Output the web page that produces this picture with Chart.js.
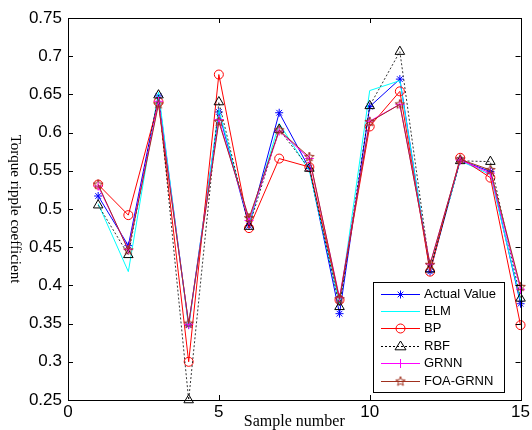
<!DOCTYPE html>
<html>
<head>
<meta charset="utf-8">
<script src="https://cdn.jsdelivr.net/npm/chart.js@4/dist/chart.umd.min.js"></script>
<style>
html,body{margin:0;padding:0;background:#fff;}
#wrap{width:532px;height:430px;position:relative;}
</style>
</head>
<body>
<div id="wrap"><canvas id="c" width="532" height="430"></canvas></div>
<script>
const samples = [1,2,3,4,5,6,7,8,9,10,11,12,13,14,15];
const actualValue = [0.517,0.452,0.648,0.348,0.627,0.478,0.626,0.553,0.363,0.634,0.670,0.418,0.564,0.549,0.376];
const elmValues   = [0.507,0.418,0.653,0.345,0.630,0.480,0.612,0.550,0.375,0.655,0.668,0.420,0.563,0.545,0.380];
const bpValues    = [0.532,0.492,0.640,0.300,0.676,0.475,0.566,0.555,0.381,0.608,0.654,0.418,0.567,0.541,0.348];
const rbfValues   = [0.505,0.440,0.649,0.250,0.640,0.477,0.604,0.553,0.372,0.635,0.706,0.421,0.563,0.562,0.383];
const grnnValues  = [0.530,0.447,0.641,0.349,0.617,0.485,0.602,0.566,0.384,0.615,0.637,0.428,0.564,0.547,0.395];
const foaValues   = [0.532,0.446,0.637,0.350,0.614,0.488,0.603,0.568,0.382,0.614,0.637,0.427,0.565,0.551,0.398];
const xTicks = [0,5,10,15];
const yTicks = [0.25,0.3,0.35,0.4,0.45,0.5,0.55,0.6,0.65,0.7,0.75];
const seriesNames = ['Actual Value','ELM','BP','RBF','GRNN','FOA-GRNN'];
const xTitle = 'Sample number';
const yTitle = 'Torque ripple coefficient';

const BROWN = '#a0301e';
function pentagram(color, r){
  const s = Math.ceil(r*2+4);
  const c = document.createElement('canvas');
  c.width = s; c.height = s;
  const g = c.getContext('2d');
  g.strokeStyle = color; g.lineWidth = 1;
  g.beginPath();
  for(let i=0;i<10;i++){
    const a = -Math.PI/2 + i*Math.PI/5;
    const rr = (i%2===0) ? r : r*0.42;
    const x = s/2 + rr*Math.cos(a), y = s/2 + rr*Math.sin(a);
    if(i===0) g.moveTo(x,y); else g.lineTo(x,y);
  }
  g.closePath(); g.stroke();
  return c;
}
const pentaImg = pentagram(BROWN, 5);

function pts(vals){ return samples.map((x,i)=>({x:x,y:vals[i]})); }

const styles = [
  {color:'#0000ff', point:'star', radius:4, dash:[], width:1},
  {color:'#00ffff', point:false, radius:0, dash:[], width:1},
  {color:'#ff0000', point:'circle', radius:4.5, dash:[], width:1},
  {color:'#000000', point:'triangle', radius:5.5, dash:[2,2], width:0.8},
  {color:'#ff00ff', point:'cross', radius:4.5, dash:[], width:1},
  {color:BROWN, point:pentaImg, radius:5, dash:[], width:1}
];
const allVals = [actualValue, elmValues, bpValues, rbfValues, grnnValues, foaValues];

const datasets = allVals.map((v,i)=>({
  label: seriesNames[i],
  data: pts(v),
  borderColor: styles[i].color,
  borderWidth: styles[i].width,
  borderDash: styles[i].dash,
  pointStyle: styles[i].point,
  pointRadius: styles[i].radius,
  pointBorderColor: styles[i].color,
  pointBackgroundColor: 'rgba(0,0,0,0)',
  pointBorderWidth: 1,
  tension: 0,
  fill: false,
  clip: false,
  order: 6 - i
}));

function drawMarker(ctx, i, x, y){
  const s = styles[i];
  ctx.save();
  ctx.strokeStyle = s.color; ctx.lineWidth = 1; ctx.setLineDash([]);
  const r = s.radius;
  ctx.beginPath();
  if(s.point === 'star'){
    ctx.moveTo(x-r,y); ctx.lineTo(x+r,y); ctx.moveTo(x,y-r); ctx.lineTo(x,y+r);
    const d = r*0.707;
    ctx.moveTo(x-d,y-d); ctx.lineTo(x+d,y+d); ctx.moveTo(x-d,y+d); ctx.lineTo(x+d,y-d);
    ctx.stroke();
  } else if(s.point === 'circle'){
    ctx.arc(x,y,r,0,Math.PI*2); ctx.stroke();
  } else if(s.point === 'triangle'){
    const h = r*1.5;
    ctx.moveTo(x, y - r); ctx.lineTo(x + r*0.866*1.15, y + r*0.6); ctx.lineTo(x - r*0.866*1.15, y + r*0.6); ctx.closePath(); ctx.stroke();
  } else if(s.point === 'cross'){
    ctx.moveTo(x-r,y); ctx.lineTo(x+r,y); ctx.moveTo(x,y-r); ctx.lineTo(x,y+r); ctx.stroke();
  } else if(s.point && s.point.getContext){
    ctx.drawImage(s.point, x - s.point.width/2, y - s.point.height/2);
  }
  ctx.restore();
}

const framePlugin = {
  id: 'frame',
  afterDraw(chart){
    const ctx = chart.ctx, a = chart.chartArea;
    const xs = chart.scales.x, ys = chart.scales.y;
    ctx.save();
    ctx.strokeStyle = '#000'; ctx.lineWidth = 1;
    ctx.strokeRect(Math.round(a.left)+0.5, Math.round(a.top)+0.5, Math.round(a.right-a.left), Math.round(a.bottom-a.top));
    ctx.beginPath();
    const tl = 5;
    yTicks.forEach(v=>{
      const py = Math.round(ys.getPixelForValue(v))+0.5;
      ctx.moveTo(a.left, py); ctx.lineTo(a.left+tl, py);
      ctx.moveTo(a.right, py); ctx.lineTo(a.right-tl, py);
    });
    xTicks.forEach(v=>{
      const px = Math.round(xs.getPixelForValue(v))+0.5;
      ctx.moveTo(px, a.bottom); ctx.lineTo(px, a.bottom-tl);
      ctx.moveTo(px, a.top); ctx.lineTo(px, a.top+tl);
    });
    ctx.stroke();

    // axis titles
    ctx.fillStyle = '#000';
    ctx.font = '16px "Liberation Serif", "Times New Roman", serif';
    ctx.textAlign = 'center'; ctx.textBaseline = 'middle';
    ctx.fillText(xTitle, (a.left+a.right)/2, 422);
    ctx.save();
    ctx.translate(15, (a.top+a.bottom)/2);
    ctx.rotate(Math.PI/2);
    ctx.font = '15px "Liberation Serif", "Times New Roman", serif';
    ctx.fillText(yTitle, 0, 0);
    ctx.restore();

    // legend
    const lx = 373, ly = 282, lw = 131, lh = 110;
    ctx.fillStyle = '#fff';
    ctx.fillRect(lx, ly, lw, lh);
    ctx.strokeStyle = '#000'; ctx.lineWidth = 1;
    ctx.strokeRect(lx+0.5, ly+0.5, lw, lh);
    ctx.font = '13px "Liberation Sans", Arial, sans-serif';
    ctx.textAlign = 'left'; ctx.textBaseline = 'middle';
    for(let i=0;i<seriesNames.length;i++){
      const cy = Math.round(293.5 + i*17.4) + 0.5;
      ctx.save();
      ctx.strokeStyle = styles[i].color; ctx.lineWidth = 1;
      ctx.setLineDash(styles[i].dash);
      ctx.beginPath(); ctx.moveTo(381, cy); ctx.lineTo(420, cy); ctx.stroke();
      ctx.restore();
      drawMarker(ctx, i, 400.5, cy);
      ctx.fillStyle = '#000';
      ctx.fillText(seriesNames[i], 424, cy);
    }
    ctx.restore();
  }
};

new Chart(document.getElementById('c'), {
  type: 'line',
  data: { datasets: datasets },
  options: {
    responsive: false,
    animation: false,
    events: [],
    layout: { padding: { left: 0, right: 11, top: 18, bottom: 0 } },
    plugins: { legend: { display: false }, tooltip: { enabled: false }, title: { display: false } },
    scales: {
      x: {
        type: 'linear', min: 0, max: 15,
        afterBuildTicks: s => { s.ticks = xTicks.map(v=>({value:v})); },
        afterFit: s => { s.height = 30; },
        grid: { display: false, drawTicks: false },
        border: { display: false },
        ticks: { color: '#000', font: { family: '"Liberation Sans", Arial, sans-serif', size: 17 }, padding: 2, maxRotation: 0, callback: v => String(v) }
      },
      y: {
        type: 'linear', min: 0.25, max: 0.75,
        afterBuildTicks: s => { s.ticks = yTicks.map(v=>({value:v})); },
        afterFit: s => { s.width = 68; },
        grid: { display: false, drawTicks: false },
        border: { display: false },
        ticks: { color: '#000', font: { family: '"Liberation Sans", Arial, sans-serif', size: 17 }, padding: 6, callback: v => String(+v.toFixed(2)) }
      }
    }
  },
  plugins: [framePlugin]
});
</script>
</body>
</html>
